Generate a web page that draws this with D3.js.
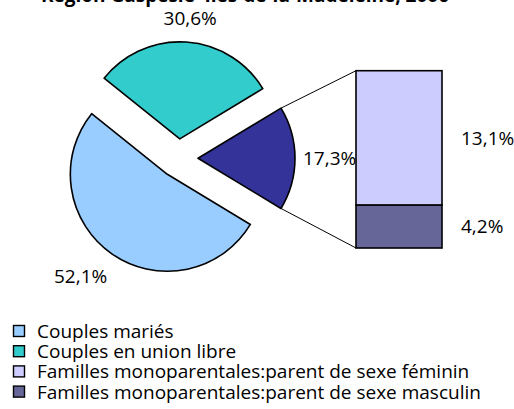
<!DOCTYPE html>
<html>
<head>
<meta charset="utf-8">
<script src="https://cdn.jsdelivr.net/npm/d3@7"></script>
<style>
  body { margin: 0; background: #fff; }
  text { font-family: "Open Sans", sans-serif; }
</style>
</head>
<body>
<div id="chart"></div>
<script>
const width = 514;
const height = 409;

// data
const titleText = "Région Gaspésie–Îles-de-la-Madeleine, 2006";
const pieLabels = ["Couples mariés", "Couples en union libre", "Familles monoparentales"];
const pieValues = [52.1, 30.6, 17.3];
const pieColors = ["#99ccff", "#33cccc", "#333399"];
const pieOrder = [1, 0, 2]; // drawing order around the pie
const barLabels = ["Familles monoparentales:parent de sexe féminin", "Familles monoparentales:parent de sexe masculin"];
const barValues = [13.1, 4.2];
const barColors = ["#ccccff", "#666699"];
const legendLabels = [pieLabels[0], pieLabels[1], barLabels[0], barLabels[1]];
const legendColors = [pieColors[0], pieColors[1], barColors[0], barColors[1]];

const fmt = v => d3.format(".1f")(v).replace(".", ",") + "%";

const cx = 178.5, cy = 158.3, radius = 97, explode = 19.5;
const fontSize = 19;

const svg = d3.select("#chart").append("svg")
  .attr("width", width)
  .attr("height", height);

// title (cut at the top like in the source)
svg.append("text")
  .attr("x", 245)
  .attr("y", 2)
  .attr("text-anchor", "middle")
  .attr("font-weight", "bold")
  .attr("font-size", fontSize)
  .text(titleText);

// pie, going counter-clockwise with the small slice centered on the right
const otherAngle = pieValues[2] / d3.sum(pieValues) * 2 * Math.PI;
const start = Math.PI / 2 - otherAngle / 2;
const pie = d3.pie()
  .sort(null)
  .value(i => pieValues[i])
  .startAngle(start)
  .endAngle(start - 2 * Math.PI);
const arcs = pie(pieOrder);
const arc = d3.arc().innerRadius(0).outerRadius(radius);

function unit(d) {
  const a = (d.startAngle + d.endAngle) / 2;
  return [Math.sin(a), -Math.cos(a)];
}

const slices = svg.append("g");
arcs.forEach(function(d) {
  const u = unit(d);
  const vx = cx + u[0] * explode, vy = cy + u[1] * explode;
  d.vx = vx; d.vy = vy; d.u = u;
  slices.append("path")
    .attr("transform", "translate(" + vx + "," + vy + ")")
    .attr("d", arc(d))
    .attr("fill", pieColors[d.data])
    .attr("stroke", "#000")
    .attr("stroke-width", 1.6)
    .attr("stroke-linejoin", "round");
});

// pie labels, outside end
const pad = 8;
arcs.forEach(function(d) {
  const t = svg.append("text")
    .attr("font-size", fontSize)
    .attr("text-anchor", "middle")
    .text(fmt(pieValues[d.data]));
  const hw = t.node().getComputedTextLength() / 2;
  const hh = 16;
  const px = d.vx + d.u[0] * (radius + pad);
  const py = d.vy + d.u[1] * (radius + pad);
  const clamp = v => Math.max(-1, Math.min(1, v * 2));
  const tx = px + hw * clamp(d.u[0]);
  const ty = py + hh * clamp(d.u[1]);
  t.attr("x", tx).attr("y", ty + 7);
});

// stacked bar for the "other" slice
const barX0 = 356, barX1 = 442;
const y = d3.scaleLinear()
  .domain([0, d3.sum(barValues)])
  .range([248, 70.7]);
const stackData = [];
let acc = 0;
[1, 0].forEach(function(i) {
  stackData.push({ i: i, y0: acc, y1: acc + barValues[i] });
  acc += barValues[i];
});

// connector lines from the small slice to the bar
const other = arcs[2];
const p1 = [other.vx + radius * Math.sin(other.endAngle + 2 * Math.PI), other.vy - radius * Math.cos(other.endAngle + 2 * Math.PI)];
const p2 = [other.vx + radius * Math.sin(other.startAngle), other.vy - radius * Math.cos(other.startAngle)];
const tops = [p1, p2].sort((a, b) => a[1] - b[1]);
svg.append("line")
  .attr("x1", tops[0][0]).attr("y1", tops[0][1])
  .attr("x2", barX0).attr("y2", y(d3.sum(barValues)))
  .attr("stroke", "#000").attr("stroke-width", 1);
svg.append("line")
  .attr("x1", tops[1][0]).attr("y1", tops[1][1])
  .attr("x2", barX0).attr("y2", y(0))
  .attr("stroke", "#000").attr("stroke-width", 1);

svg.append("g").selectAll("rect")
  .data(stackData)
  .join("rect")
  .attr("x", barX0)
  .attr("width", barX1 - barX0)
  .attr("y", d => y(d.y1))
  .attr("height", d => y(d.y0) - y(d.y1))
  .attr("fill", d => barColors[d.i])
  .attr("stroke", "#000")
  .attr("stroke-width", 1.6);

svg.append("g").selectAll("text")
  .data(stackData)
  .join("text")
  .attr("x", barX1 + 19)
  .attr("y", d => (y(d.y0) + y(d.y1)) / 2 + 7)
  .attr("font-size", fontSize)
  .text(d => fmt(barValues[d.i]));

// legend
const legend = svg.append("g").selectAll("g")
  .data(legendLabels)
  .join("g")
  .attr("transform", (d, i) => "translate(13," + (331 + i * 20.2) + ")");
legend.append("rect")
  .attr("x", 0.5).attr("y", -5.5)
  .attr("width", 11).attr("height", 11)
  .attr("fill", (d, i) => legendColors[i])
  .attr("stroke", "#000")
  .attr("stroke-width", 1.4);
legend.append("text")
  .attr("x", 24)
  .attr("y", 7)
  .attr("font-size", fontSize)
  .text(d => d);
</script>
</body>
</html>
